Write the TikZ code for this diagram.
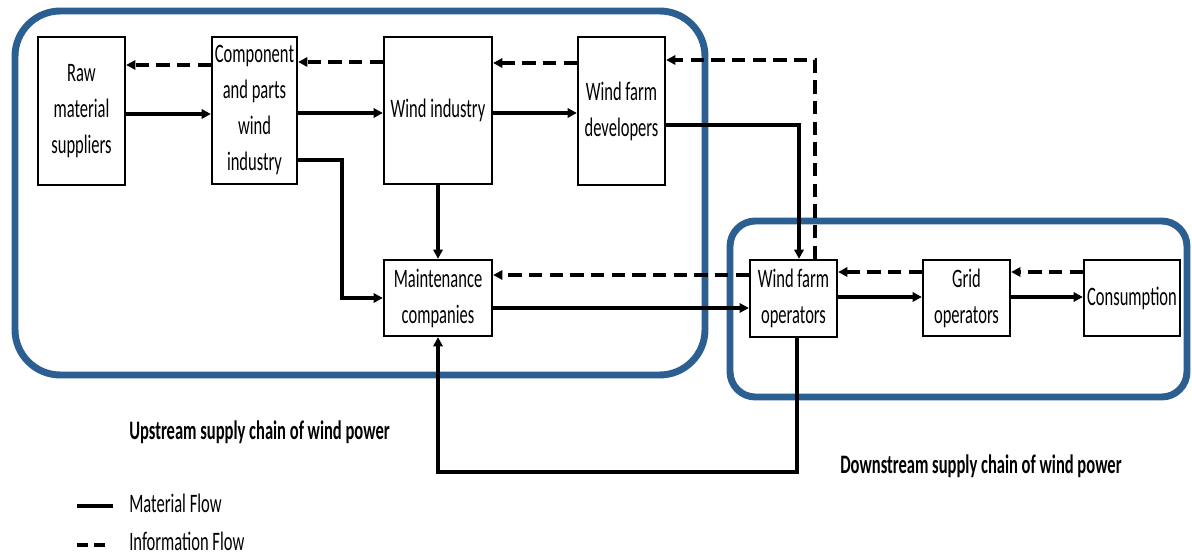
\documentclass[tikz,border=0pt]{standalone}
\usepackage{fontspec}
\setmainfont{Carlito}[FakeStretch=0.62]
\usetikzlibrary{arrows.meta}
\definecolor{chainblue}{HTML}{2B5F91}
\begin{document}
\begin{tikzpicture}[x=0.75pt,y=-0.75pt,
  box/.style={draw,line width=1.7pt,fill=white,align=center,inner sep=0pt,
    font=\fontsize{20}{27}\selectfont},
  mat/.style={line width=2.4pt,-{Triangle[length=7pt,width=7pt]}},
  info/.style={line width=2.6pt,dash pattern=on 10pt off 5.5pt,-{Triangle[length=7pt,width=7pt]}},
  chain/.style={draw=chainblue,line width=5.2pt},
  lbl/.style={inner sep=0pt,font=\fontsize{20}{24}\selectfont\bfseries},
  leg/.style={inner sep=0pt,font=\fontsize{20}{24}\selectfont}]
\useasboundingbox (0,0) rectangle (1192,555);
% containers
\draw[chain,rounded corners=34pt] (15,11) rectangle (705,375);
\draw[chain,rounded corners=19pt] (730,221) rectangle (1187,397);
% boxes
\node[box,minimum width=65.25pt,minimum height=111pt] (raw) at (81.5,111) {Raw\\material\\suppliers};
\node[box,minimum width=63.75pt,minimum height=110.25pt] (comp) at (254.5,110.5) {Component\\and parts\\wind\\industry};
\node[box,minimum width=81pt,minimum height=110.25pt] (wind) at (438,110.5) {Wind industry};
\node[box,minimum width=65.25pt,minimum height=111pt] (wfd) at (621.5,111) {Wind farm\\developers};
\node[box,minimum width=81pt,minimum height=57pt] (maint) at (438,298) {Maintenance\\companies};
\node[box,minimum width=65.25pt,minimum height=57.75pt] (wfo) at (793.5,298.5) {Wind farm\\operators};
\node[box,minimum width=65.25pt,minimum height=57pt] (grid) at (966.5,298) {Grid\\operators};
\node[box,minimum width=72pt,minimum height=57pt] (cons) at (1132,298) {Consumption};
% information flows
\draw[info] (comp.west |- 0,65) -- (raw.east |- 0,65);
\draw[info] (wind.west |- 0,62) -- (comp.east |- 0,62);
\draw[info] (wfd.west |- 0,63) -- (wind.east |- 0,63);
\draw[info] (wfo.north -| 815,0) -- (815,60) -- (wfd.east |- 0,60);
\draw[info] (wfo.west |- 0,275) -- (maint.east |- 0,275);
\draw[info] (grid.west |- 0,272) -- (wfo.east |- 0,272);
\draw[info] (cons.west |- 0,272) -- (grid.east |- 0,272);
% material flows
\draw[mat] (raw.east |- 0,114) -- (comp.west |- 0,114);
\draw[mat] (comp.east |- 0,113) -- (wind.west |- 0,113);
\draw[mat] (wind.east |- 0,113) -- (wfd.west |- 0,113);
\draw[mat] (comp.east |- 0,160) -- (342,160) |- (maint.west);
\draw[mat] (wind.south) -- (maint.north);
\draw[mat] (wfd.east |- 0,125) -- (799,125) -- (wfo.north -| 799,0);
\draw[mat] (maint.east |- 0,308) -- (wfo.west |- 0,308);
\draw[mat] (wfo.east |- 0,297) -- (grid.west |- 0,297);
\draw[mat] (grid.east |- 0,297) -- (cons.west |- 0,297);
\draw[mat] (wfo.south -| 797,0) -- (797,472) -| (maint.south);
% labels
\node[lbl,anchor=west] (up) at (129,432) {Upstream supply chain of wind power};
\node[lbl,anchor=west] (down) at (840,466) {Downstream supply chain of wind power};
% legend
\coordinate (m1) at (77,506);
\coordinate (m2) at (113,506);
\coordinate (i1) at (77,545);
\coordinate (i2) at (107,545);
\draw[line width=2.8pt] (m1) -- (m2);
\draw[line width=2.8pt,dash pattern=on 8pt off 5pt] (i1) -- (i2);
\node[leg,anchor=west] (lm) at (129,503) {Material Flow};
\node[leg,anchor=west] (li) at (129,541) {Information Flow};
\end{tikzpicture}
\end{document}
